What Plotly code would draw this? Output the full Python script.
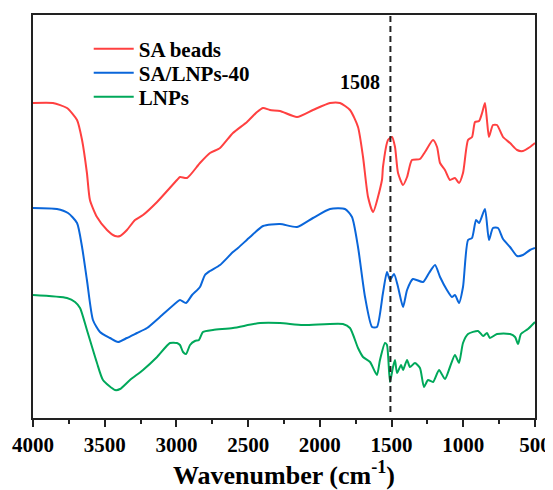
import plotly.graph_objects as go

# Wavenumber (cm-1) and transmittance (a.u.)
sa_wn = [4000, 3861, 3763, 3693, 3658, 3624, 3603, 3554, 3484, 3428, 3393, 3345, 3289, 3233, 3135,
         2996, 2975, 2926, 2836, 2766, 2696, 2606, 2508, 2438, 2396, 2348, 2278, 2159, 2048, 1929,
         1860, 1790, 1734, 1699, 1664, 1629, 1567, 1560, 1525, 1497, 1476, 1455, 1420, 1392, 1358,
         1302, 1267, 1211, 1183, 1162, 1128, 1093, 1058, 1030, 1002, 967, 939, 918, 890, 869, 849,
         835, 821, 793, 765, 723, 674, 625, 584, 535, 500]
sa_t = [315, 315, 310, 298, 278, 245, 218, 201, 188, 182, 182, 188, 198, 203, 216,
        238, 241, 240, 255, 265, 270, 285, 296, 306, 310, 308, 307, 301, 308, 315,
        315, 308, 291, 261, 221, 206, 238, 251, 278, 281, 271, 245, 233, 241, 258,
        259, 266, 278, 271, 255, 248, 238, 240, 235, 245, 278, 281, 296, 297, 305, 315,
        298, 281, 293, 293, 281, 275, 268, 267, 271, 275]

sal_wn = [4000, 3833, 3756, 3693, 3658, 3624, 3582, 3533, 3463, 3407, 3345, 3275, 3205, 3115, 2996,
          2975, 2933, 2891, 2836, 2801, 2766, 2696, 2606, 2571, 2487, 2396, 2278, 2159, 2048, 1929,
          1825, 1776, 1734, 1685, 1636, 1602, 1560, 1532, 1511, 1483, 1455, 1420, 1392, 1351, 1281,
          1239, 1197, 1162, 1114, 1079, 1058, 1030, 1002, 967, 939, 911, 890, 849, 821, 793, 758,
          723, 674, 625, 584, 535, 500]
sal_t = [210, 209, 205, 195, 171, 138, 98, 86, 80, 76, 80, 85, 90, 101, 116,
         118, 115, 123, 131, 143, 147, 153, 166, 170, 181, 192, 194, 191, 200, 209,
         209, 201, 171, 121, 91, 91, 125, 146, 138, 144, 131, 111, 128, 139, 136,
         145, 153, 141, 128, 121, 123, 115, 131, 178, 180, 198, 195, 209, 178, 190, 190,
         179, 171, 162, 163, 168, 170]

lnp_wn = [4000, 3763, 3707, 3672, 3624, 3554, 3512, 3428, 3393, 3324, 3233, 3135, 3045, 2996, 2975,
          2954, 2933, 2905, 2871, 2843, 2815, 2745, 2606, 2417, 2278, 2118, 1839, 1790, 1734, 1699,
          1650, 1602, 1581, 1546, 1532, 1511, 1490, 1476, 1462, 1434, 1420, 1392, 1372, 1337, 1302,
          1274, 1246, 1211, 1169, 1128, 1093, 1058, 1030, 1002, 967, 897, 862, 835, 814, 765, 674,
          639, 618, 598, 549, 500]
lnp_t = [123, 120, 116, 110, 88, 55, 38, 28, 29, 38, 48, 61, 75, 75, 73,
         66, 64, 73, 77, 78, 86, 88, 90, 95, 95, 93, 94, 90, 70, 61,
         56, 43, 58, 75, 73, 36, 51, 58, 45, 53, 48, 58, 51, 55, 50,
         31, 38, 36, 48, 39, 51, 63, 55, 75, 84, 87, 82, 85, 80, 84, 84,
         81, 74, 84, 89, 96]

series = [
    ("SA beads", sa_wn, sa_t, "#FF4040"),
    ("SA/LNPs-40", sal_wn, sal_t, "#0A66DA"),
    ("LNPs", lnp_wn, lnp_t, "#00A85A"),
]

marker_wn = 1508

FONT = "Liberation Serif"
legend_names = ["legend", "legend2", "legend3"]
legend_ys = [0.9156, 0.856, 0.7965]

fig = go.Figure()
for (name, x, y, c), lg in zip(series, legend_names):
    fig.add_trace(go.Scatter(x=x, y=y, mode="lines", name=name, legend=lg,
                             line=dict(color=c, width=2, shape="spline", smoothing=0.6)))

fig.add_shape(type="line", x0=marker_wn, x1=marker_wn, y0=6, y1=403, xref="x", yref="y",
              line=dict(color="#222222", width=2, dash="6px,4px"))
fig.add_annotation(x=marker_wn, y=336, xref="x", yref="y", text="<b>1508</b>", showarrow=False,
                   xanchor="right", xshift=-8, font=dict(family=FONT, size=20, color="black"))

legend_style = dict(x=0.111, xanchor="left", yanchor="middle", bgcolor="rgba(0,0,0,0)",
                    font=dict(family=FONT, size=21, color="black", weight="bold"), itemwidth=40)

fig.update_layout(
    width=545, height=482,
    margin=dict(l=25, r=18, t=7, b=72),
    paper_bgcolor="white", plot_bgcolor="white",
    font=dict(family=FONT, color="black"),
    showlegend=True,
    legend=dict(y=legend_ys[0], **legend_style),
    legend2=dict(y=legend_ys[1], **legend_style),
    legend3=dict(y=legend_ys[2], **legend_style),
    xaxis=dict(range=[4000, 500], autorange=False, automargin=False,
               tickvals=[4000, 3500, 3000, 2500, 2000, 1500, 1000, 500],
               ticks="outside", ticklen=7, tickwidth=1.5, tickcolor="#222",
               minor=dict(tickvals=[3750, 3250, 2750, 2250, 1750, 1250, 750], ticks="outside", ticklen=4,
                          tickwidth=1.5, tickcolor="#222"),
               showline=True, linecolor="#222", linewidth=1.5, mirror=True, showgrid=False, zeroline=False,
               tickfont=dict(family=FONT, size=21, color="black", weight="bold"),
               title=dict(text="<b>Wavenumber (cm<sup>-1</sup>)</b>", font=dict(family=FONT, size=26, color="black"),
                          standoff=7)),
    yaxis=dict(range=[0, 403], autorange=False, automargin=False, showticklabels=False, ticks="",
               showgrid=False, zeroline=False,
               showline=True, linecolor="#222", linewidth=1.5, mirror=True),
)

fig.write_html("out.html")
